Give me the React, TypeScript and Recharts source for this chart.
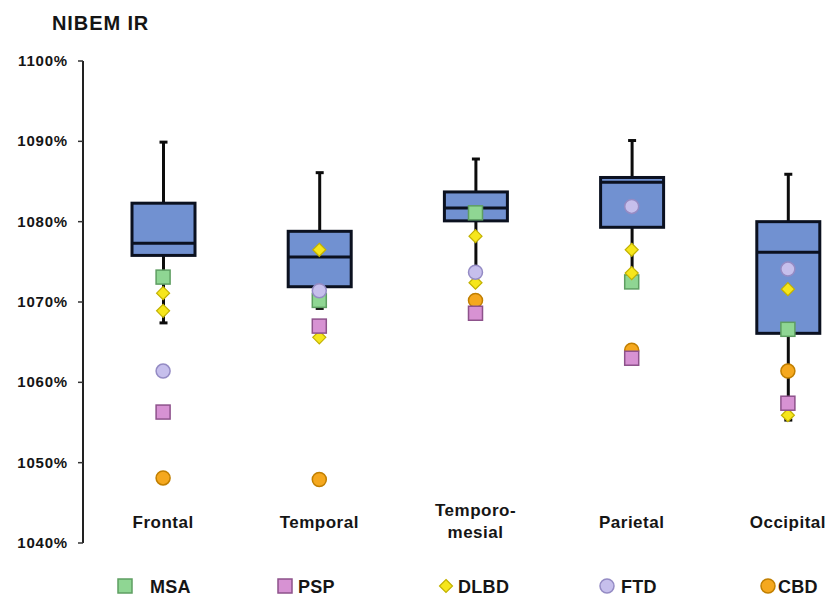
import { ComposedChart, Bar, Scatter, XAxis, YAxis } from 'recharts';

// regions on the x axis
const regions = ['Frontal', 'Temporal', 'Temporo-mesial', 'Parietal', 'Occipital'];

// box plot statistics (NIBEM IR, %)
const whiskerLow = [1067.4, 1069.2, 1073.6, 1072.6, 1055.3];
const quart1 = [1075.8, 1071.9, 1080.1, 1079.3, 1066.1];
const medians = [1077.3, 1075.6, 1081.7, 1084.9, 1076.2];
const quart3 = [1082.3, 1078.8, 1083.7, 1085.5, 1080.0];
const whiskerHigh = [1089.9, 1086.1, 1087.8, 1090.1, 1085.9];

// individual patients
const msaValues = [1073.1, 1070.2, 1081.1, 1072.5, 1066.6];
const pspValues = [1056.3, 1067.0, 1068.6, 1063.0, 1057.4];
const dlbdValues = [1071.1, 1076.5, 1078.2, 1076.5, 1071.6];
const dlbdValues2 = [1068.9, 1065.6, 1072.4, 1073.6, 1055.9];
const ftdValues = [1061.4, 1071.4, 1073.7, 1081.9, 1074.1];
const cbdValues = [1048.1, 1047.9, 1070.2, 1064.0, 1061.4];

const yTicks = [1040, 1050, 1060, 1070, 1080, 1090, 1100];
const seriesNames = ['MSA', 'PSP', 'DLBD', 'FTD', 'CBD'];

const data = regions.map((name, i) => ({
  name,
  low: whiskerLow[i],
  q1: quart1[i],
  med: medians[i],
  q3: quart3[i],
  high: whiskerHigh[i],
  msa: msaValues[i],
  psp: pspValues[i],
  dlbd: dlbdValues[i],
  dlbd2: dlbdValues2[i],
  ftd: ftdValues[i],
  cbd: cbdValues[i],
}));

const FONT = 'Arial, "Liberation Sans", sans-serif';
const INK = '#151515';

const STYLE: Record<string, { fill: string; stroke: string; kind: string }> = {
  MSA: { fill: '#8fd693', stroke: '#5e9e62', kind: 'square' },
  PSP: { fill: '#d792d3', stroke: '#8d528b', kind: 'square' },
  DLBD: { fill: '#f6e61c', stroke: '#c2b100', kind: 'diamond' },
  FTD: { fill: '#c6bfec', stroke: '#948bc4', kind: 'circle' },
  CBD: { fill: '#f5a81e', stroke: '#c17f00', kind: 'circle' },
};

function Marker({ cx, cy, name }: { cx: number; cy: number; name: string }) {
  const s = STYLE[name];
  if (s.kind === 'square') {
    return <rect x={cx - 7} y={cy - 7} width={14} height={14} fill={s.fill} stroke={s.stroke} strokeWidth={1.5} />;
  }
  if (s.kind === 'diamond') {
    return (
      <polygon
        points={`${cx},${cy - 6.5} ${cx + 6.5},${cy} ${cx},${cy + 6.5} ${cx - 6.5},${cy}`}
        fill={s.fill}
        stroke={s.stroke}
        strokeWidth={1.2}
      />
    );
  }
  return <circle cx={cx} cy={cy} r={7} fill={s.fill} stroke={s.stroke} strokeWidth={1.5} />;
}

const markerShape = (name: string) => (props: any) => <Marker cx={props.cx} cy={props.cy} name={name} />;

// draws whiskers, box and median inside the band the Bar gets from the scales
const BoxShape = (props: any) => {
  const { x, y, width, height, payload } = props;
  const top = Math.min(y, y + height);
  const bottom = Math.max(y, y + height);
  const { low, q1, med, q3, high } = payload;
  const py = (v: number) => top + ((high - v) / (high - low)) * (bottom - top);
  const cx = x + width / 2;
  const line = { stroke: '#0c0c0c', strokeWidth: 3 };
  return (
    <g>
      <line x1={cx} x2={cx} y1={py(high)} y2={py(q3)} {...line} />
      <line x1={cx} x2={cx} y1={py(q1)} y2={py(low)} {...line} />
      <line x1={cx - 4} x2={cx + 4} y1={py(high)} y2={py(high)} {...line} />
      <line x1={cx - 4} x2={cx + 4} y1={py(low)} y2={py(low)} {...line} />
      <rect x={x} y={py(q3)} width={width} height={py(q1) - py(q3)} fill="#7191d1" stroke="#0b1120" strokeWidth={3} />
      <line x1={x} x2={x + width} y1={py(med)} y2={py(med)} stroke="#0b1120" strokeWidth={3} />
    </g>
  );
};

const YTick = (props: any) => {
  const { y, payload } = props;
  return (
    <text x={68} y={y + 5} textAnchor="end" fontFamily={FONT} fontWeight="bold" fontSize={15} letterSpacing={0.8} fill={INK}>
      {payload.value}%
    </text>
  );
};

const XTick = (props: any) => {
  const { x, y, payload } = props;
  const parts = String(payload.value).includes('-')
    ? [String(payload.value).split('-')[0] + '-', String(payload.value).split('-')[1]]
    : [String(payload.value)];
  const base = parts.length === 1 ? y - 15 : y - 27;
  return (
    <text textAnchor="middle" fontFamily={FONT} fontWeight="bold" fontSize={17} letterSpacing={0.5} fill={INK}>
      {parts.map((p, i) => (
        <tspan key={p} x={x} y={base + i * 22}>
          {p}
        </tspan>
      ))}
    </text>
  );
};

const legendPos = [
  { mx: 125, tx: 150 },
  { mx: 285, tx: 298 },
  { mx: 446, tx: 458 },
  { mx: 607, tx: 621 },
  { mx: 768, tx: 778 },
];

function LegendRow() {
  return (
    <svg width={838} height={40} style={{ position: 'absolute', left: 0, top: 566 }}>
      {seriesNames.map((n, i) => (
        <g key={n}>
          <Marker cx={legendPos[i].mx} cy={20} name={n} />
          <text x={legendPos[i].tx} y={27} fontFamily={FONT} fontWeight="bold" fontSize={18} letterSpacing={0.3} fill={INK}>
            {n}
          </text>
        </g>
      ))}
    </svg>
  );
}

export default function App() {
  return (
    <div style={{ position: 'absolute', left: 0, top: 0, width: 838, height: 603, overflow: 'hidden', background: '#fff' }}>
      <div
        style={{
          position: 'absolute',
          left: 52,
          top: 12,
          fontFamily: FONT,
          fontWeight: 'bold',
          fontSize: 20,
          letterSpacing: 0.9,
          color: INK,
        }}
      >
        NIBEM IR
      </div>
      <ComposedChart width={866} height={603} data={data} margin={{ top: 61, right: 0, bottom: 0, left: 0 }}>
        <XAxis
          dataKey="name"
          type="category"
          height={60}
          padding={{ left: 2, right: 0 }}
          axisLine={false}
          tickLine={false}
          tickSize={0}
          tickMargin={0}
          interval={0}
          tick={<XTick />}
        />
        <YAxis
          type="number"
          domain={[1040, 1100]}
          ticks={yTicks}
          allowDataOverflow
          width={83}
          tickSize={5}
          axisLine={{ stroke: '#222', strokeWidth: 2 }}
          tickLine={{ stroke: '#333', strokeWidth: 1.5 }}
          tick={<YTick />}
        />
        <Bar dataKey={(d: any) => [d.low, d.high]} barSize={63} shape={BoxShape} isAnimationActive={false} />
        <Scatter dataKey="cbd" shape={markerShape('CBD')} isAnimationActive={false} />
        <Scatter dataKey="msa" shape={markerShape('MSA')} isAnimationActive={false} />
        <Scatter dataKey="dlbd" shape={markerShape('DLBD')} isAnimationActive={false} />
        <Scatter dataKey="dlbd2" shape={markerShape('DLBD')} isAnimationActive={false} />
        <Scatter dataKey="psp" shape={markerShape('PSP')} isAnimationActive={false} />
        <Scatter dataKey="ftd" shape={markerShape('FTD')} isAnimationActive={false} />
      </ComposedChart>
      <LegendRow />
    </div>
  );
}
